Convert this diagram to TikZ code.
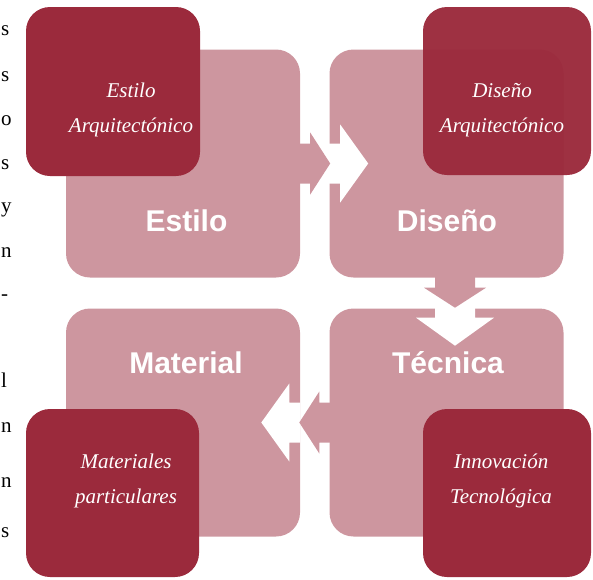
\documentclass[tikz,border=0pt]{standalone}
\usepackage{fontspec}
\setmainfont{Liberation Sans}
\newfontfamily\serifTxt{Liberation Serif}
\usetikzlibrary{calc}
\definecolor{pinkbg}{HTML}{CD969F}
\definecolor{darkred}{HTML}{9B2A3C}
\newcommand\blockarr[2]{%
  \begin{scope}[shift={#1}, rotate=#2]
    \fill[white] (29,-20) -- (40,-20) -- (40,-39) -- (68,0) -- (40,39) -- (40,20) -- (29,20) -- cycle;
    \fill[pinkbg] (-1,-20) -- (10,-20) -- (10,-31) -- (30,0) -- (10,31) -- (10,20) -- (-1,20) -- cycle;
  \end{scope}}
\begin{document}
\begin{tikzpicture}[x=1pt,y=-1pt,
  pinkbox/.style={fill=pinkbg, rounded corners=24pt, inner sep=0pt, minimum width=234pt, minimum height=228pt},
  darkbox/.style={fill=darkred, rounded corners=24pt, inner sep=0pt},
  bigtxt/.style={text=white, font=\bfseries\fontsize{30}{36}\selectfont, anchor=base},
  scripttxt/.style={text=white, align=center, font=\serifTxt\itshape\fontsize{21}{35}\selectfont},
  edgetxt/.style={text=black, anchor=base west, inner sep=0pt, font=\serifTxt\fontsize{21}{21}\selectfont}]
\useasboundingbox (0,0) rectangle (593,579);

% left margin fragments
\node[edgetxt] (e1) at (1,35) {s};
\node[edgetxt] (e2) at (1,81) {s};
\node[edgetxt] (e3) at (1,125) {o};
\node[edgetxt] (e4) at (1,169) {s};
\node[edgetxt] (e5) at (1,212) {y};
\node[edgetxt] (e6) at (1,257) {n};
\node[edgetxt] (e7) at (1,300) {-};
\node[edgetxt] (e8) at (1,387) {l};
\node[edgetxt] (e9) at (1,432) {n};
\node[edgetxt] (e10) at (1,487) {n};
\node[edgetxt] (e11) at (1,537) {s};

% large pink boxes
\node[pinkbox] (estilo) at (183,163.5) {};
\node[pinkbox] (diseno) at (446.5,163.5) {};
\node[pinkbox] (material) at (183,422.5) {};
\node[pinkbox] (tecnica) at (446.5,422.5) {};

% block arrows
\blockarr{(estilo.east)}{0}
\blockarr{($(diseno.south)+(8.5,0)$)}{-90}
\blockarr{(tecnica.west)}{180}

% dark boxes
\node[darkbox, minimum width=174pt, minimum height=169pt] (dEstilo) at (113,91.5) {};
\node[darkbox, fill opacity=0.97, minimum width=168pt, minimum height=168pt] (dDiseno) at (507,91) {};
\node[darkbox, minimum width=173pt, minimum height=168pt] (dMaterial) at (112.5,493) {};
\node[darkbox, minimum width=168pt, minimum height=168pt] (dTecnica) at (507,493) {};

% main labels
\node[bigtxt] (tEstilo) at (186.5,231) {Estilo};
\node[bigtxt] (tDiseno) at (447,231) {Diseño};
\node[bigtxt] (tMaterial) at (186,373) {Material};
\node[bigtxt] (tTecnica) at (448,373) {Técnica};

% script labels
\node[scripttxt] (sEstilo) at (131,110) {Estilo\\Arquitectónico};
\node[scripttxt] (sDiseno) at (502,110) {Diseño\\Arquitectónico};
\node[scripttxt] (sMaterial) at (126,481) {Materiales\\particulares};
\node[scripttxt] (sTecnica) at (501,481) {Innovación\\Tecnológica};
\end{tikzpicture}
\end{document}
